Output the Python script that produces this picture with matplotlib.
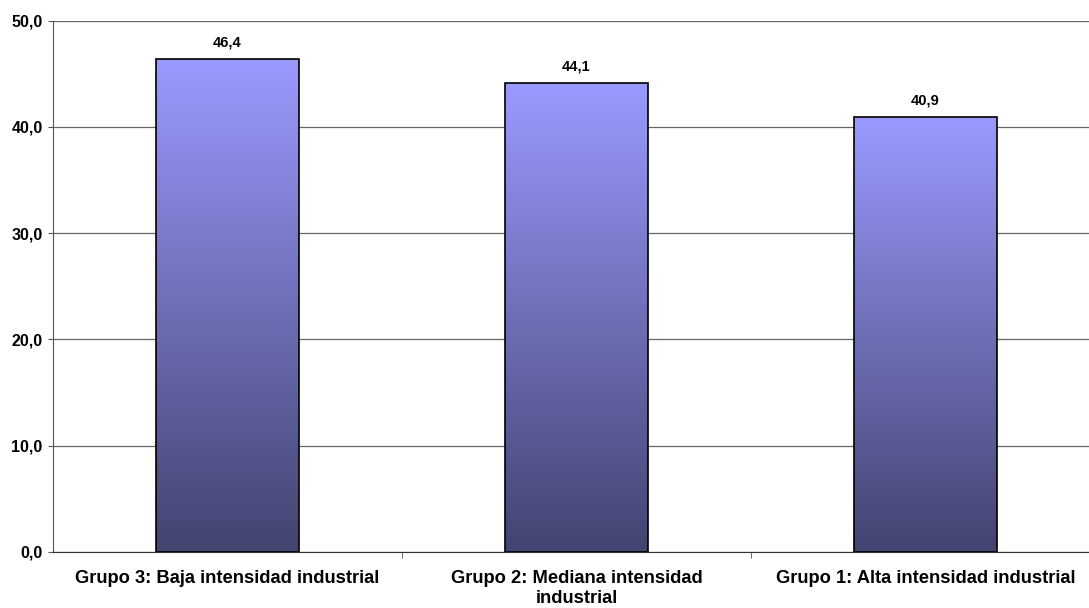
import numpy as np
import matplotlib.pyplot as plt
from matplotlib.colors import LinearSegmentedColormap
from matplotlib.ticker import FixedLocator, FuncFormatter

categories = ["Grupo 3: Baja intensidad industrial",
              "Grupo 2: Mediana intensidad\nindustrial",
              "Grupo 1: Alta intensidad industrial"]
values = [46.4, 44.1, 40.9]
value_labels = ["46,4", "44,1", "40,9"]

plt.rcParams['font.family'] = ['Liberation Sans', 'DejaVu Sans']

W, H = 1089, 608
fig = plt.figure(figsize=(W / 100, H / 100), dpi=100)
ax = fig.add_axes([53 / W, (H - 551.7) / H, 1047 / W, 531 / H])

x = np.arange(len(values))
bars = ax.bar(x, values, width=0.407, facecolor='none', edgecolor='black',
              linewidth=1.2, zorder=3)

# vertical gradient in each bar
cmap = LinearSegmentedColormap.from_list('g', ['#434370', '#9a9aff'])
grad = np.linspace(0, 1, 256).reshape(-1, 1)
for b in bars:
    x0, y0 = b.get_x(), b.get_y()
    im = ax.imshow(grad, cmap=cmap, aspect='auto', origin='lower',
                   extent=[x0, x0 + b.get_width(), y0, y0 + b.get_height()],
                   zorder=2)
    im.set_clip_path(b)

for xi, v, lab in zip(x, values, value_labels):
    ax.text(xi, v + 0.9, lab, ha='center', va='bottom', fontsize=10.5,
            fontweight='bold')

ax.set_xlim(-0.5, len(values) - 0.5)
ax.set_ylim(0, 50)
ax.set_yticks(np.arange(0, 51, 10))
ax.yaxis.set_major_formatter(FuncFormatter(lambda v, p: f"{v:.1f}".replace('.', ',')))
ax.grid(axis='y', color='#666666', linewidth=0.9, zorder=1)
ax.set_axisbelow(True)

ax.set_xticks(x)
ax.set_xticklabels(categories, fontsize=13.2, fontweight='bold', linespacing=1.25)
ax.xaxis.set_minor_locator(FixedLocator([0.5, 1.5]))
ax.tick_params(axis='x', which='major', length=0, pad=13)
ax.tick_params(axis='x', which='minor', length=4, color='#555555', direction='out')
ax.tick_params(axis='y', length=3.5, color='#555555', labelsize=11.5, pad=4)
for lab in ax.get_yticklabels():
    lab.set_fontweight('bold')

for s in ['top', 'right']:
    ax.spines[s].set_visible(False)
ax.spines['left'].set_color('#555555')
ax.spines['bottom'].set_color('#333333')

fig.savefig('out.png', dpi=100)
